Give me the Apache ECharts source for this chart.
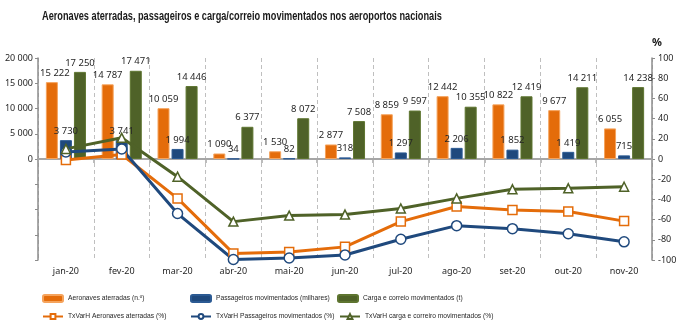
<!DOCTYPE html>
<html>
<head>
<meta charset="utf-8">
<script src="https://cdn.jsdelivr.net/npm/echarts@6/dist/echarts.min.js"></script>
<style>
  html, body { margin: 0; padding: 0; background: #fff; }
  #chart { width: 680px; height: 335px; }
</style>
</head>
<body>
<div id="chart"></div>
<script>
// Months (2020)
var months = ['jan-20', 'fev-20', 'mar-20', 'abr-20', 'mai-20', 'jun-20', 'jul-20', 'ago-20', 'set-20', 'out-20', 'nov-20'];

// Monthly volumes (left axis)
var aeronaves   = [15222, 14787, 10059, 1090, 1530, 2877, 8859, 12442, 10822, 9677, 6055];
var passageiros = [3730, 3741, 1994, 34, 82, 318, 1297, 2206, 1852, 1419, 715];
var carga       = [17250, 17471, 14446, 6377, 8072, 7508, 9597, 10355, 12419, 14211, 14238];

// Year-on-year change, % (right axis)
var txAeronaves   = [-1, 4.5, -39, -93.5, -92, -87, -62, -47, -50.5, -52, -61.5];
var txPassageiros = [7, 10, -54, -99.5, -98, -95, -79.5, -66, -69, -74, -82];
var txCarga       = [10, 21, -17.5, -62, -56, -55, -49, -39, -30, -29, -27.5];

// Axis tick settings
var leftMin = -20000, leftMax = 20000, leftStep = 5000;
var rightMin = -100, rightMax = 100, rightStep = 20;

var TITLE = 'Aeronaves aterradas, passageiros e carga/correio movimentados nos aeroportos nacionais';

var ORANGE = '#E46C0A', BLUE = '#1F497D', GREEN = '#4F6228';
var AXIS = '#8C8C8C';
var FONT = "'Noto Sans', 'DejaVu Sans', sans-serif";
var LEGEND_FONT = "'Liberation Sans', Arial, sans-serif";

function spaced(v) {
  return String(v).replace(/\B(?=(\d{3})+(?!\d))/g, ' ');
}

var chart = echarts.init(document.getElementById('chart'), null, { renderer: 'canvas' });

function barSeries(name, data, color, border) {
  return {
    name: name, type: 'bar',
    data: data.map(function (v, i) {
      // first label nudged off the value axis line
      return i === 0 && name === N1 ? { value: v, label: { offset: [3, 0] } } : v;
    }),
    xAxisIndex: 0, yAxisIndex: 0,
    barWidth: 12, barGap: '17%',
    itemStyle: { color: color, borderColor: border, borderWidth: 1 },
    label: {
      show: true, position: 'top', distance: 4,
      color: '#262626', fontSize: 9.5, fontFamily: FONT,
      formatter: function (p) { return spaced(p.value); }
    },
    emphasis: { disabled: true },
    z: 2
  };
}

function lineSeries(name, data, color, symbol, size) {
  return {
    name: name, type: 'line', data: data,
    xAxisIndex: 0, yAxisIndex: 1,
    symbol: symbol, symbolSize: size, showAllSymbol: true,
    lineStyle: { color: color, width: 3 },
    itemStyle: { color: '#ffffff', borderColor: color, borderWidth: 1.5 },
    emphasis: { disabled: true },
    z: 5
  };
}

function legendAt(name, left, top, isLine) {
  return {
    data: [name], left: left, top: top,
    itemWidth: 20, itemHeight: isLine ? 6 : 7, itemGap: 2,
    textStyle: { fontSize: 6.7, color: '#262626', fontFamily: LEGEND_FONT },
    padding: 0
  };
}

var N1 = 'Aeronaves aterradas (n.º)';
var N2 = 'Passageiros movimentados (milhares)';
var N3 = 'Carga e correio movimentados (t)';
var N4 = 'TxVarH Aeronaves aterradas (%)';
var N5 = 'TxVarH Passageiros movimentados (%)';
var N6 = 'TxVarH carga e correiro movimentados (%)';

var option = {
  animation: false,
  backgroundColor: '#ffffff',
  graphic: [
    {
      type: 'text', x: 42, y: 10, scaleX: 0.735,
      style: {
        text: TITLE, fill: '#1a1a1a',
        font: "bold 12.5px 'Liberation Sans', Arial, sans-serif"
      }
    }
  ],
  legend: [
    legendAt(N1, 42, 294, false),
    legendAt(N2, 190, 294, false),
    legendAt(N3, 337, 294, false),
    legendAt(N4, 42, 313, true),
    legendAt(N5, 190, 313, true),
    legendAt(N6, 339, 313, true)
  ],
  grid: { left: 38, right: 28, top: 58, bottom: 75, containLabel: false },
  xAxis: [
    {
      type: 'category', data: months, position: 'bottom',
      axisLine: { onZero: true, onZeroAxisIndex: 0, lineStyle: { color: '#A6A6A6', width: 2 } },
      axisTick: { show: true, length: 4, lineStyle: { color: '#A6A6A6', width: 1.5 } },
      axisLabel: { show: false },
      splitLine: { show: true, lineStyle: { color: '#BFBFBF', type: [4, 3], width: 1 } }
    },
    {
      type: 'category', data: months, position: 'bottom',
      axisLine: { show: false, onZero: false },
      axisTick: { show: false },
      axisLabel: { show: true, color: '#262626', fontSize: 9, fontFamily: FONT, margin: 7 },
      splitLine: { show: false }
    }
  ],
  yAxis: [
    {
      type: 'value', min: leftMin, max: leftMax, interval: leftStep, position: 'left',
      axisLine: { show: true, lineStyle: { color: AXIS, width: 1.5 } },
      axisTick: { show: true, length: 3, lineStyle: { color: AXIS } },
      axisLabel: {
        color: '#262626', fontSize: 9, fontFamily: FONT, margin: 5,
        formatter: function (v) { return v < 0 ? '' : spaced(v); }
      },
      splitLine: { show: false }
    },
    {
      type: 'value', min: rightMin, max: rightMax, interval: rightStep, position: 'right',
      name: '%', nameLocation: 'end', nameGap: 10,
      nameTextStyle: { fontSize: 11, fontWeight: 'bold', color: '#1a1a1a', fontFamily: FONT, align: 'left' },
      axisLine: { show: true, lineStyle: { color: AXIS, width: 1.5 } },
      axisTick: { show: true, length: 3, lineStyle: { color: AXIS } },
      axisLabel: { color: '#262626', fontSize: 9, fontFamily: FONT, margin: 6 },
      splitLine: { show: false }
    }
  ],
  series: [
    barSeries(N1, aeronaves, ORANGE, '#F5A35C'),
    barSeries(N2, passageiros, BLUE, '#2B5A93'),
    barSeries(N3, carga, GREEN, '#5E7530'),
    lineSeries(N4, txAeronaves, ORANGE, 'rect', 9),
    lineSeries(N5, txPassageiros, BLUE, 'circle', 10),
    lineSeries(N6, txCarga, GREEN, 'triangle', 9)
  ]
};

chart.setOption(option);
</script>
</body>
</html>
